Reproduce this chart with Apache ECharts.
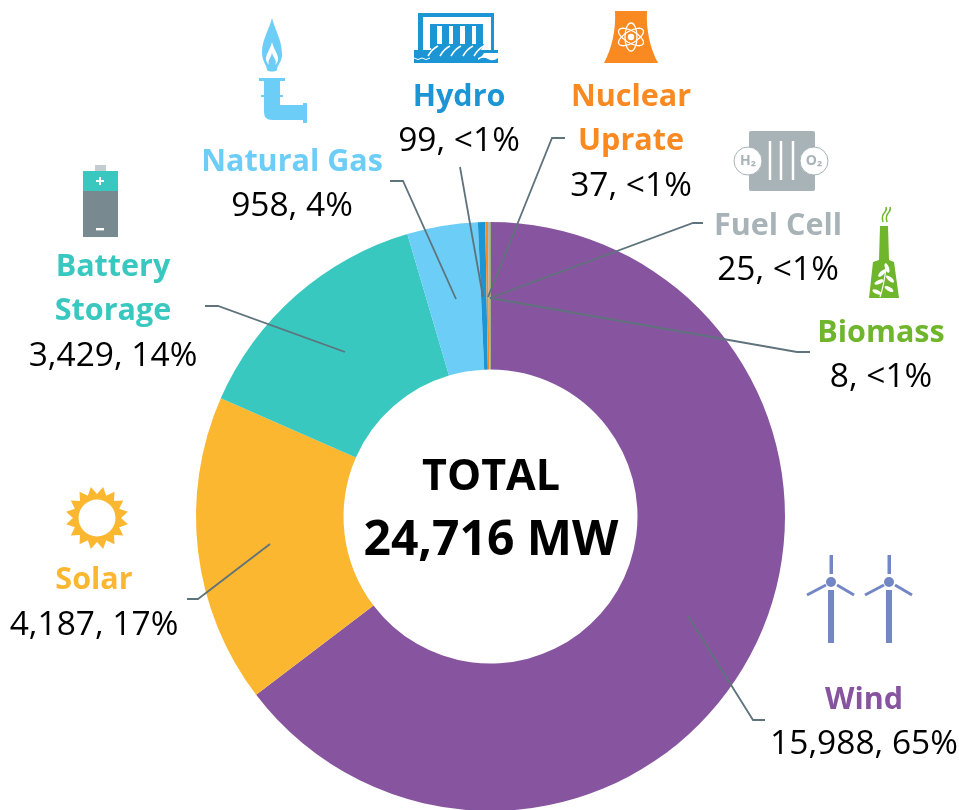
<!DOCTYPE html>
<html><head><meta charset="utf-8">
<style>html,body{margin:0;padding:0;background:#fff}#c{width:959px;height:810px}</style>
<script src="https://cdn.jsdelivr.net/npm/echarts@6/dist/echarts.min.js"></script></head>
<body><div id="c"></div>
<script>
const categories = ['Wind','Solar','Battery\nStorage','Natural Gas','Hydro','Nuclear\nUprate','Fuel Cell','Biomass'];
const capacityMW = [15988,4187,3429,958,99,37,25,8];
const shareLabels = ['65%','17%','14%','4%','<1%','<1%','<1%','<1%'];
const sliceColors = ['#87559f','#fbb730','#38c8bf','#6ccdf6','#1b95d4','#f98a21','#a8b3b7','#6fb62c'];
const totalLines = ['TOTAL','24,716 MW'];
// label anchor (centre) and leader polyline for each category
const labelCentres = [[864,722.5],[94,603],[113,311.5],[292,184.5],[459,119.5],[631,141.5],[778,248.5],[881,355.5]];
const leaderLines = [
 [[688,616],[753,720],[765,720]],
 [[270,544],[198,599],[187,599]],
 [[345,352],[218,306],[205,306]],
 [[456,299],[403,181],[390,181]],
 [[483,297],[460,167]],
 [[488,297],[552,138],[565,138]],
 [[490,298],[693,223],[703,223]],
 [[490,298],[797,352],[810,352]]
];
const FONT='"Open Sans"';
const chart=echarts.init(document.getElementById('c'),null,{renderer:'canvas'});
const rich={v:{fontFamily:FONT,fontSize:33.5,color:'#000',lineHeight:44.5,align:'center'}};
sliceColors.forEach((c,i)=>{rich['n'+i]={fontFamily:FONT,fontSize:30.5,fontWeight:700,color:c,lineHeight:44.5,align:'center'};});

// ---- icons (decoration) ----
function rect(x,y,w,h,fill,r){return {type:'rect',shape:{x,y,width:w,height:h,r:r||0},style:{fill},silent:true};}
function line(x1,y1,x2,y2,stroke,w){return {type:'line',shape:{x1,y1,x2,y2},style:{stroke,lineWidth:w},silent:true};}
function circ(cx,cy,r,fill,stroke,lw){return {type:'circle',shape:{cx,cy,r},style:{fill:fill||'none',stroke:stroke||null,lineWidth:lw||0},silent:true};}
function ell(cx,cy,rx,ry,deg,fill,stroke,lw){return {type:'ellipse',shape:{cx:0,cy:0,rx,ry},x:cx,y:cy,rotation:deg*Math.PI/180,style:{fill:fill||'none',stroke:stroke||null,lineWidth:lw||0},silent:true};}
let pathCount=0;
function path(d,fill,stroke,lw){const name='iconPath'+(pathCount++);echarts.graphic.registerShape(name,echarts.graphic.extendPath(d));return {type:name,style:{fill:fill||'none',stroke:stroke||null,lineWidth:lw||0},silent:true};}
const G=[];
// battery
G.push(rect(95,165,11,6,'#c3cdd1'),rect(83,171,35,20,'#38c8bf'),rect(83,191,35,46,'#788a90'),
  rect(96,180,8,2,'#fff'),rect(99,177,2,8,'#fff'),rect(96,228,8,2.4,'#fff'));
// gas flame + pipe
const gas='#6ccdf6';
G.push(path('M272 18 C275 30 282 40 282 55 C282 62 277 65 277 70 C275 72 269 72 267 70 C267 65 262 62 262 52 C262 40 269 30 272 18Z',gas));
G.push(path('M272 42 C270 50 266 54 266 59 C266 62 268 64 269 65 C267 60 272 57 272 52 C272 57 278 60 275 65 C277 63 278 62 278 58 C278 54 274 50 272 42Z','#fff'));
G.push(rect(259,78,26,3,gas),rect(264,81,16,20,gas),rect(261,95,22,2,gas));
G.push(path('M264 100 L280 100 L280 105 L304 105 L304 120 L272 120 Q264 120 264 112Z',gas));
G.push(rect(303,103,4,20,gas));
// hydro
const hy='#1b95d4';
G.push(path('M418 50 L418 13 L494 13 L494 50 L491 50 L491 17 L423 17 L423 50Z',hy));
[430,442,453,465,476].forEach(x=>G.push(rect(x,24,7,24,hy)));
G.push(rect(430,24,53,2,hy));
G.push(path('M414 50 L498 50 L498 53 L484 53 Q482 57 478 58 L478 63 L414 63Z',hy));
G.push(path('M430 44 L484 44 L480 52 L432 52Z',hy));
['M428 56 Q432 49 438 46','M440 56 Q444 49 450 46','M451 56 Q455 49 461 46','M463 56 Q467 49 473 46','M474 56 Q478 49 484 46'].forEach(d=>G.push(path(d,null,'#fff',1.6)));
G.push(path('M478 60 Q483 56 488 59 Q493 62 498 58 L498 63 L478 63Z',hy));
G.push(path('M414 58 Q418 61 422 58 Q426 61 430 58','none','#fff',1));
// nuclear
const nu='#f98a21';
G.push(path('M615 11 L647 11 C646 30 650 48 658 63 L604 63 C612 48 616 30 615 11Z',nu));
[90,30,-30].forEach(a=>G.push(ell(631,37,14,6,a,null,'#fff',1.3)));
G.push(circ(631,37,3.2,'#fff'));
// fuel cell
const fc='#a8b3b7';
G.push(rect(749,131,66,60,fc,2));
[770,781,793].forEach(x=>G.push(line(x,141,x,180,'#fff',2.5)));
G.push(circ(748,161,14,'#fff',fc,1),circ(814,161,14,'#fff',fc,1));
G.push({type:'text',style:{x:748,y:161,text:'H₂',fill:fc,font:'bold 14px '+FONT,align:'center',verticalAlign:'middle'},silent:true});
G.push({type:'text',style:{x:814,y:161,text:'O₂',fill:fc,font:'bold 14px '+FONT,align:'center',verticalAlign:'middle'},silent:true});
// biomass
const bi='#6fb62c';
G.push(path('M880 226 L888 226 L889 260 L894 262 L899 298 L869 298 L873 262 L879 260Z',bi));
G.push(path('M883 222 Q881 216 885 212 Q887 209 886 207',null,bi,1.5),path('M887 222 Q885 216 889 212 Q891 209 890 207',null,bi,1.5));
G.push(path('M880 297 Q884 285 886 268',null,'#fff',1.2));
[[877,292,-25],[889,289,-30],[879,282,25],[890,279,-40],[882,273,45],[887,268,-70]].forEach(a=>G.push(ell(a[0],a[1],5,2,a[2],'#fff')));
// solar
const so='#fbb730';
const starPts=[];
for(let i=0;i<32;i++){const r=i%2?24:31.5,a=i*Math.PI/16-Math.PI/2+Math.PI/16;starPts.push([97+r*Math.cos(a),518+r*Math.sin(a)]);}
G.push({type:'polygon',shape:{points:starPts},style:{fill:so},silent:true},circ(97,518,18.5,'#fff'));
// wind
const wi='#7387c4';
[831,889].forEach(x=>{
  G.push(rect(x-3,590,6,53,wi),rect(x-1.5,555,3.5,19,wi),circ(x,582,5,wi),
    line(x-5,585,x-24,595,wi,3),line(x+6,585,x+23,595,wi,3));
});
// leader lines over the ring
leaderLines.forEach(pts=>G.push({type:'polyline',z:100,shape:{points:pts},style:{fill:'none',stroke:'#5f737c',lineWidth:1.8},silent:true}));
// centre text
G.push({type:'text',style:{x:491,y:478,text:totalLines[0],fill:'#000',font:'bold 43px '+FONT,align:'center',verticalAlign:'middle'}});
G.push({type:'text',style:{x:491,y:541,text:totalLines[1],fill:'#000',font:'bold 48px '+FONT,align:'center',verticalAlign:'middle'}});

chart.setOption({
  animation:false,
  backgroundColor:'#fff',
  graphic:{elements:G},
  series:[{
    type:'pie',
    center:[490.5,516.5],
    radius:[147,294.5],
    startAngle:90,
    clockwise:true,
    avoidLabelOverlap:false,
    itemStyle:{borderColor:'#fff',borderWidth:0},
    data:categories.map((c,i)=>({name:c,value:capacityMW[i],itemStyle:{color:sliceColors[i]}})),
    label:{show:true,position:'outside',rich,
      formatter:p=>{const i=p.dataIndex;
        const nm=categories[i].split('\n').map(s=>`{n${i}|${s}}`).join('\n');
        return nm+`\n{v|${capacityMW[i].toLocaleString('en-US')}, ${shareLabels[i]}}`;}},
    labelLine:{show:false},
    labelLayout:p=>{const i=p.dataIndex;return {x:labelCentres[i][0],y:labelCentres[i][1],align:'center',verticalAlign:'middle'};},
    emphasis:{disabled:true}
  }]
});
</script></body></html>
